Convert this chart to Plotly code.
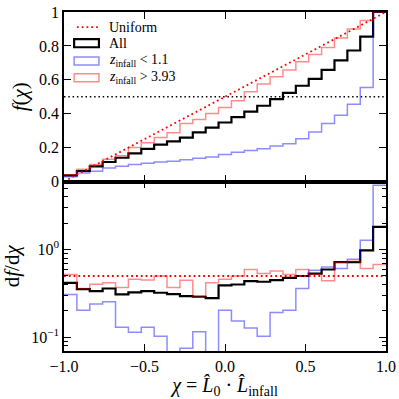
import plotly.graph_objects as go
from plotly.subplots import make_subplots

# bin edges of the 25 histogram bins in chi
bin_edges = [-1.0, -0.92, -0.84, -0.76, -0.68, -0.60, -0.52, -0.44, -0.36, -0.28,
             -0.20, -0.12, -0.04, 0.04, 0.12, 0.20, 0.28, 0.36, 0.44, 0.52,
             0.60, 0.68, 0.76, 0.84, 0.92, 1.0]

# cumulative fraction f(chi), one value per bin
cum_all = [0.036, 0.062, 0.089, 0.115, 0.140, 0.166, 0.192, 0.217, 0.237, 0.259,
           0.290, 0.318, 0.348, 0.380, 0.412, 0.447, 0.486, 0.523, 0.565, 0.605,
           0.658, 0.715, 0.773, 0.855, 1.0]
cum_low_z = [0.028, 0.050, 0.060, 0.080, 0.090, 0.100, 0.108, 0.115, 0.120, 0.128,
             0.137, 0.144, 0.160, 0.172, 0.183, 0.193, 0.209, 0.222, 0.252, 0.292,
             0.342, 0.391, 0.456, 0.555, 1.0]
cum_high_z = [0.040, 0.073, 0.100, 0.132, 0.152, 0.200, 0.228, 0.260, 0.288, 0.342,
              0.366, 0.401, 0.437, 0.476, 0.530, 0.575, 0.618, 0.658, 0.707, 0.750,
              0.790, 0.846, 0.900, 0.950, 1.0]

# density df/dchi, one value per bin
dens_all = [0.418, 0.354, 0.336, 0.360, 0.308, 0.325, 0.336, 0.322, 0.310, 0.295,
            0.290, 0.280, 0.390, 0.400, 0.436, 0.430, 0.448, 0.476, 0.500, 0.533,
            0.593, 0.718, 0.718, 0.980, 1.81]
dens_low_z = [0.308, 0.204, 0.239, 0.254, 0.130, 0.114, 0.130, 0.103, 0.050, 0.075,
              0.116, 0.040, 0.204, 0.153, 0.128, 0.103, 0.192, 0.204, 0.360, 0.582,
              0.635, 0.608, 0.776, 1.28, 5.40]
dens_high_z = [0.520, 0.360, 0.403, 0.420, 0.370, 0.460, 0.450, 0.500, 0.370, 0.448,
               0.295, 0.418, 0.460, 0.500, 0.593, 0.533, 0.571, 0.520, 0.593, 0.524,
               0.440, 0.718, 0.736, 0.608, 0.675]

# uniform reference
uniform_x = [-1.0, 1.0]
uniform_cum = [0.0, 1.0]
uniform_dens = [0.5, 0.5]
half_line = [0.5, 0.5]

legend_labels = ['Uniform', 'All', '<i>z</i><sub>infall</sub> < 1.1', '<i>z</i><sub>infall</sub> > 3.93']

BLACK = 'black'
BLUE = 'rgba(0,0,255,0.45)'
RED = 'rgba(255,0,0,0.45)'
FONT = 'Liberation Serif, DejaVu Serif, serif'
DOT = '1.8px,3px'

fig = make_subplots(rows=2, cols=1, shared_xaxes=True, vertical_spacing=0)


def step(vals):
    return vals + [vals[-1]]


# top panel: cumulative
fig.add_trace(go.Scatter(x=uniform_x, y=half_line, mode='lines',
                         line=dict(color='black', width=1.5, dash='1.5px,2.8px')), row=1, col=1)
for vals, col, w in [(cum_all, BLACK, 2.2), (cum_low_z, BLUE, 1.5), (cum_high_z, RED, 1.5)]:
    fig.add_trace(go.Scatter(x=bin_edges, y=step(vals), mode='lines', line_shape='hv',
                             line=dict(color=col, width=w)), row=1, col=1)
fig.add_trace(go.Scatter(x=uniform_x, y=uniform_cum, mode='lines',
                         line=dict(color='red', width=1.8, dash=DOT)), row=1, col=1)

# bottom panel: density
for vals, col, w in [(dens_all, BLACK, 2.2), (dens_low_z, BLUE, 1.5), (dens_high_z, RED, 1.5)]:
    fig.add_trace(go.Scatter(x=bin_edges, y=step(vals), mode='lines', line_shape='hv',
                             line=dict(color=col, width=w)), row=2, col=1)
fig.add_trace(go.Scatter(x=uniform_x, y=uniform_dens, mode='lines',
                         line=dict(color='red', width=1.8, dash=DOT)), row=2, col=1)

# hand-drawn legend in the top panel
rows_y = [0.911, 0.816, 0.711, 0.612]
fig.add_shape(type='line', x0=-0.92, x1=-0.79, y0=rows_y[0], y1=rows_y[0], xref='x', yref='y',
              line=dict(color='red', width=1.8, dash=DOT))
for yy, col, w in [(rows_y[1], BLACK, 2.2), (rows_y[2], BLUE, 1.5), (rows_y[3], RED, 1.5)]:
    fig.add_shape(type='rect', x0=-0.937, x1=-0.783, y0=yy - 0.024, y1=yy + 0.024,
                  xref='x', yref='y', line=dict(color=col, width=w))
for yy, txt in zip(rows_y, legend_labels):
    fig.add_annotation(x=-0.73, y=yy, xref='x', yref='y', text=txt, showarrow=False,
                       xanchor='left', yanchor='middle', font=dict(family=FONT, size=14, color='black'))

axis_style = dict(showline=True, linecolor='black', linewidth=1.5, mirror='allticks',
                  ticks='inside', ticklen=7, tickwidth=1, tickcolor='black',
                  showgrid=False, zeroline=False, automargin=False,
                  tickfont=dict(family=FONT, size=16, color='black'))

fig.update_xaxes(axis_style)
fig.update_yaxes(axis_style)
fig.update_xaxes(range=[-1, 1], tickvals=[-1, -0.5, 0, 0.5, 1], showticklabels=False, row=1, col=1)
fig.update_xaxes(range=[-1, 1], tickvals=[-1, -0.5, 0, 0.5, 1],
                 ticktext=['\u22121.0', '\u22120.5', '0.0', '0.5', '1.0'], showticklabels=True,
                 title=dict(text='<i>\u03c7</i> = <i>L\u0302</i><sub>0</sub> \u00b7 <i>L\u0302</i><sub>infall</sub>',
                            font=dict(family=FONT, size=20, color='black'), standoff=4),
                 row=2, col=1)
fig.update_yaxes(range=[0, 1], domain=[0.5, 1.0], tickvals=[0, 0.2, 0.4, 0.6, 0.8, 1],
                 ticktext=['0', '0.2', '0.4', '0.6', '0.8', '1'],
                 title=dict(text='<i>f</i>(<i>\u03c7</i>)', font=dict(family=FONT, size=21, color='black'),
                            standoff=6),
                 row=1, col=1)
fig.update_yaxes(type='log', range=[-1.156, 0.776], domain=[0.0, 0.5], tickvals=[0.1, 1],
                 ticktext=['10<sup>\u22121</sup>', '10<sup>0</sup>'],
                 minor=dict(ticks='inside', ticklen=4, tickcolor='black', tickwidth=1,
                            tickvals=[0.07, 0.08, 0.09, 0.2, 0.3, 0.4, 0.5, 0.6, 0.7, 0.8, 0.9,
                                      2, 3, 4, 5]),
                 title=dict(text='d<i>f</i>/d<i>\u03c7</i>', font=dict(family=FONT, size=21, color='black'),
                            standoff=6),
                 row=2, col=1)

fig.update_layout(width=399, height=399, showlegend=False,
                  margin=dict(l=64, r=13, t=12, b=48),
                  plot_bgcolor='white', paper_bgcolor='white',
                  font=dict(family=FONT, color='black'))

# drop the browser's default page margin so the figure sits at the window origin
fig.write_html('out.html', config={'displayModeBar': False},
               post_script="document.body.style.margin='0';")
